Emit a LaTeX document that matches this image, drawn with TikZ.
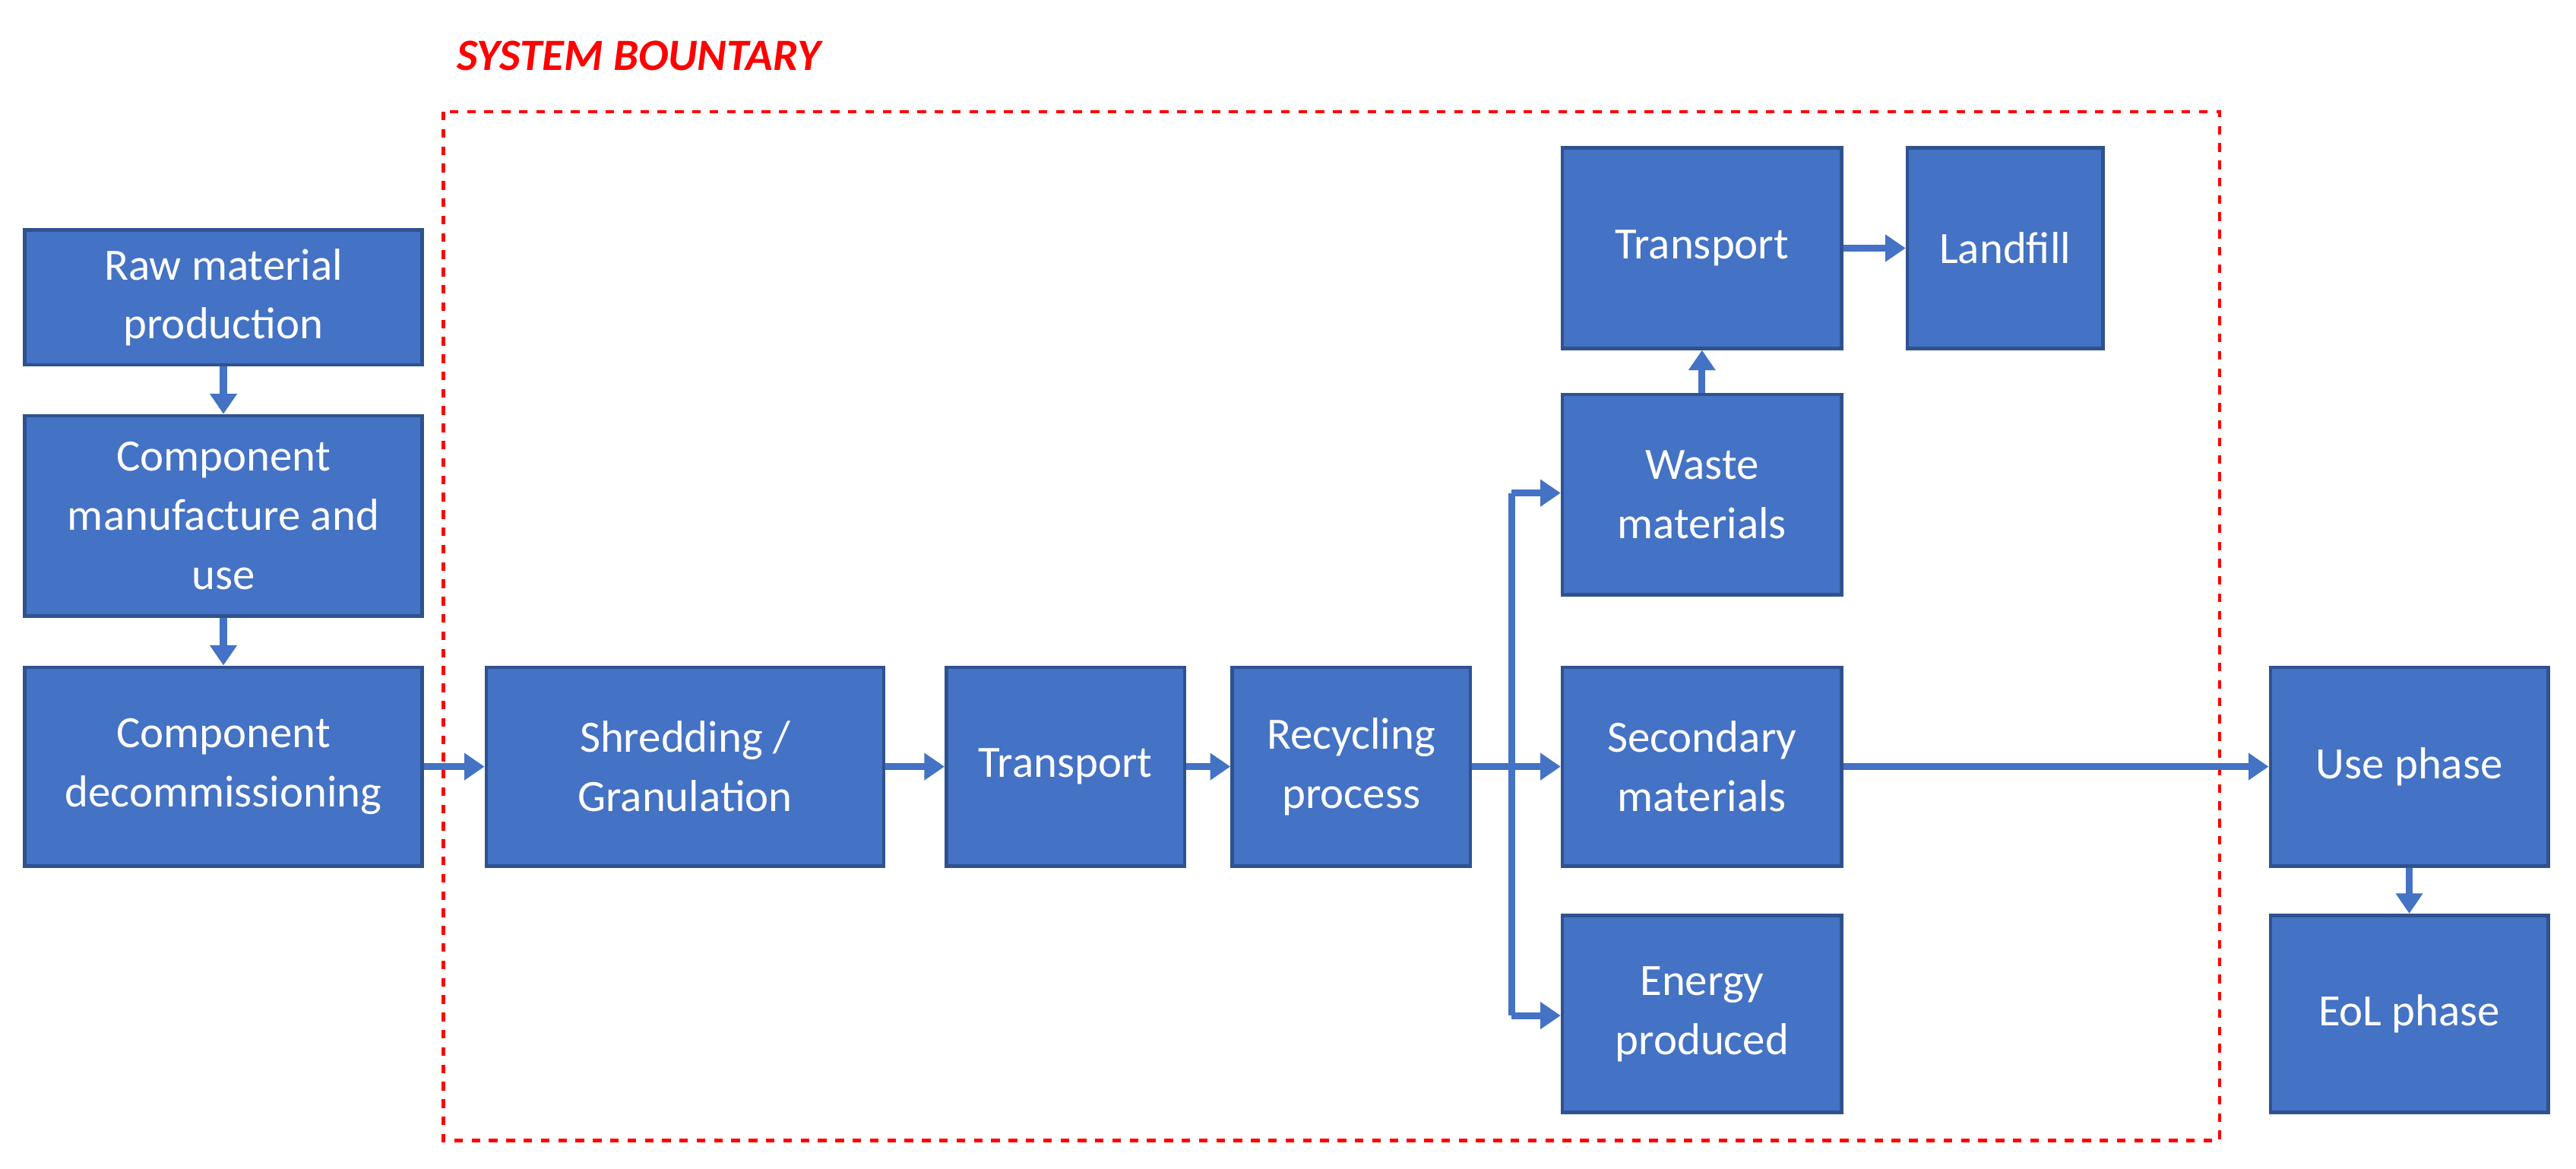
\documentclass[tikz,border=0pt]{standalone}
\usepackage{fontspec}
\setmainfont{Carlito}
\usetikzlibrary{arrows.meta}
\definecolor{bfill}{HTML}{4472C4}
\definecolor{bdraw}{HTML}{2F528F}
\definecolor{arr}{HTML}{4472C4}
\begin{document}
\begin{tikzpicture}[x=0.02cm,y=-0.02cm,
 box/.style={draw=bdraw,fill=bfill,line width=1.2pt,text=white,align=center,font=\fontsize{15.5}{20.5}\selectfont,inner sep=0pt},
 ar/.style={draw=arr,line width=2.4pt,-{Triangle[length=7pt,width=9pt]}},
 ln/.style={draw=arr,line width=2.4pt}]
\useasboundingbox (0,0) rectangle (1568,711);
\newcommand{\bx}[6]{\node[box,minimum width={(#4-#3)*0.02cm},minimum height={(#6-#5)*0.02cm}] (#1) at ({(#3+#4)/2},{(#5+#6)/2}) {#2};}
\bx{raw}{Raw material\\production}{15}{257}{140}{222}
\bx{man}{Component\\manufacture and\\use}{15}{257}{253}{375}
\bx{dec}{Component\\decommissioning}{15}{257}{406}{527}
\bx{shr}{Shredding /\\Granulation}{296}{538}{406}{527}
\bx{tr}{Transport}{576}{721}{406}{527}
\bx{rec}{Recycling\\process}{750}{895}{406}{527}
\bx{was}{Waste\\materials}{951}{1121}{240}{362}
\bx{sec}{Secondary\\materials}{951}{1121}{406}{527}
\bx{ene}{Energy\\produced}{951}{1121}{557}{677}
\bx{tr2}{Transport}{951}{1121}{90}{212}
\bx{lan}{Landfill}{1161}{1280}{90}{212}
\bx{use}{Use phase}{1382}{1551}{406}{527}
\bx{eol}{EoL phase}{1382}{1551}{557}{677}
\draw[red,dashed,line width=1.2pt] (270,68) rectangle (1351,694);
\node[red,font=\fontsize{15.5}{18}\selectfont\bfseries\itshape,anchor=west] (title) at (272,34) {SYSTEM BOUNTARY};
\draw[ar] (raw) -- (man);
\draw[ar] (man) -- (dec);
\draw[ar] (dec) -- (shr);
\draw[ar] (shr) -- (tr);
\draw[ar] (tr) -- (rec);
\draw[ar] (was) -- (tr2);
\draw[ar] (tr2) -- (lan);
\draw[ar] (sec) -- (use);
\draw[ar] (use) -- (eol);
\coordinate (j) at (920,466.5);
\draw[ln] (rec) -- (j);
\draw[ln] (920,300) -- (920,618);
\draw[ar] (j) -- (sec);
\draw[ar] (920,300) -- (was.west |- 0,300);
\draw[ar] (920,618) -- (ene.west |- 0,618);
\end{tikzpicture}
\end{document}
